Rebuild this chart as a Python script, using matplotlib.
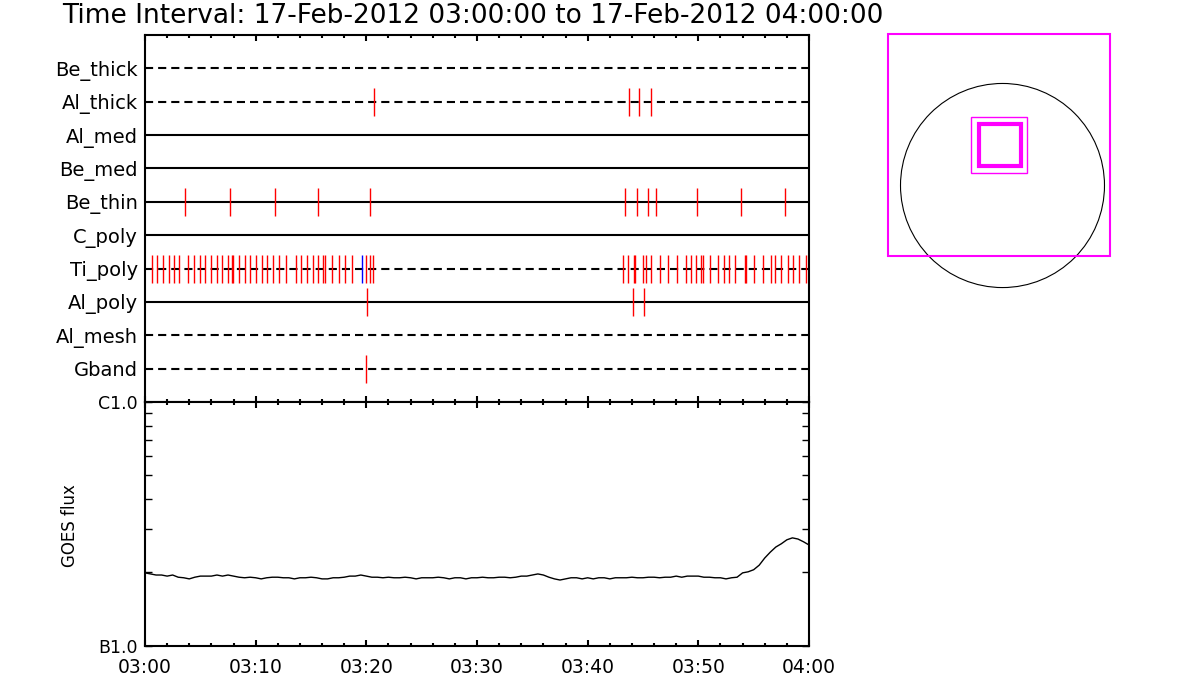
import matplotlib
matplotlib.use('Agg')
import matplotlib.pyplot as plt
from matplotlib.patches import Rectangle, Circle
import numpy as np

# ---- data -------------------------------------------------------------
title = 'Time Interval: 17-Feb-2012 03:00:00 to 17-Feb-2012 04:00:00'

# detector rows, top to bottom, and their line styles
rows = ['Be_thick', 'Al_thick', 'Al_med', 'Be_med', 'Be_thin',
        'C_poly', 'Ti_poly', 'Al_poly', 'Al_mesh', 'Gband']
dashed = ['Be_thick', 'Al_thick', 'Ti_poly', 'Al_mesh', 'Gband']

# event times in minutes after 03:00
events = {
    'Al_thick': [20.71, 43.75, 44.65, 45.74],
    'Be_thin': [3.65, 7.70, 11.75, 15.65, 20.35, 43.40, 44.45, 45.45, 46.20,
                49.90, 53.85, 57.80],
    'Ti_poly': [0.61, 1.11, 1.63, 2.14, 2.65, 3.10, 3.91, 4.43, 4.94, 5.45,
                5.96, 6.48, 6.98, 7.50, 7.88, 7.98, 8.49, 9.01, 9.51, 10.03,
                10.54, 11.05, 11.57, 12.08, 12.77, 13.62, 14.12, 14.64, 15.15,
                15.66, 16.12, 16.22, 16.87, 17.50, 18.10, 18.70, 19.94, 20.33,
                20.63,
                43.22, 43.67, 44.16, 44.28, 45.03, 45.27, 45.75, 46.56, 47.28,
                48.10, 48.86, 49.31, 49.76, 50.27, 50.39, 51.05, 51.80, 52.35,
                52.80, 53.31, 54.22, 54.33, 55.06, 55.84, 56.54, 56.95, 57.47,
                58.07, 58.55, 59.07, 59.75],
    'Al_poly': [20.08, 44.11, 45.10],
    'Gband': [19.96],
}
blue_events = {'Ti_poly': [19.63]}

# GOES flux, every 30 s from 03:00, in units of 1e-7 W/m^2
goes_t = np.arange(0, 60.5, 0.5)
goes_flux = [1.99, 1.97, 1.95, 1.95, 1.93, 1.95, 1.91, 1.90, 1.88, 1.91,
             1.93, 1.93, 1.93, 1.95, 1.93, 1.95, 1.93, 1.91, 1.90, 1.91,
             1.90, 1.88, 1.90, 1.91, 1.91, 1.90, 1.90, 1.88, 1.90, 1.90,
             1.91, 1.90, 1.88, 1.88, 1.90, 1.90, 1.91, 1.93, 1.93, 1.95,
             1.93, 1.91, 1.91, 1.90, 1.91, 1.90, 1.90, 1.91, 1.90, 1.88,
             1.90, 1.90, 1.90, 1.91, 1.90, 1.88, 1.90, 1.90, 1.88, 1.90,
             1.90, 1.91, 1.90, 1.90, 1.91, 1.91, 1.90, 1.91, 1.93, 1.93,
             1.95, 1.97, 1.95, 1.91, 1.88, 1.86, 1.88, 1.90, 1.90, 1.88,
             1.90, 1.88, 1.90, 1.90, 1.88, 1.90, 1.90, 1.90, 1.91, 1.90,
             1.90, 1.91, 1.91, 1.90, 1.91, 1.91, 1.93, 1.91, 1.93, 1.93,
             1.93, 1.91, 1.91, 1.90, 1.90, 1.88, 1.90, 1.91, 1.99, 2.01,
             2.05, 2.14, 2.29, 2.42, 2.54, 2.62, 2.72, 2.77, 2.74, 2.67,
             2.59]

time_ticks = [0, 10, 20, 30, 40, 50, 60]
time_labels = ['03:00', '03:10', '03:20', '03:30', '03:40', '03:50', '04:00']
flux_ticks = [1e-6, 1e-7]
flux_labels = ['C1.0', 'B1.0']

# field of view boxes on the solar disk (arcsec): centre x, centre y, half size
sun_radius = 960
fov_boxes = [(-34, 380, 1045, 1.5), (-30, 383, 262, 1.0), (-27, 378, 197, 3.0)]

# ---- figure -----------------------------------------------------------
plt.rcParams['font.family'] = 'DejaVu Sans'
fig = plt.figure(figsize=(12, 7), dpi=100)

W, H = 1200, 700
def pix_axes(x0, y0, x1, y1):
    return fig.add_axes([x0 / W, 1 - y1 / H, (x1 - x0) / W, (y1 - y0) / H])

ax1 = pix_axes(145, 35, 809, 402)
ax2 = pix_axes(145, 402, 809, 645.7)

n = len(rows)
ypos = {r: n - i for i, r in enumerate(rows)}
for r in rows:
    y = ypos[r]
    if r in dashed:
        ax1.plot([0, 60], [y, y], color='black', lw=1.5, dashes=(3.9, 2.4))
    else:
        ax1.plot([0, 60], [y, y], color='black', lw=1.5)
    if r in events:
        ax1.vlines(events[r], y - 0.42, y + 0.42, color='#ff0000', lw=1.0)
    if r in blue_events:
        ax1.vlines(blue_events[r], y - 0.42, y + 0.42, color='#0000ff', lw=1.0)

ax1.set_xlim(0, 60)
ax1.set_ylim(0, n + 1)
ax1.set_yticks([ypos[r] for r in rows])
ax1.set_yticklabels(rows, fontsize=14)
ax1.tick_params(axis='y', length=0, pad=5)
ax1.set_xticks(time_ticks)
ax1.set_xticks(np.arange(0, 61, 2), minor=True)
ax1.tick_params(axis='x', which='both', direction='in', top=True, bottom=True,
                labelbottom=False, width=1.5)
ax1.tick_params(axis='x', which='major', length=4)
ax1.tick_params(axis='x', which='minor', length=2.5)
for s in ax1.spines.values():
    s.set_linewidth(1.5)

# GOES panel
ax2.plot(goes_t, np.array(goes_flux) * 1e-7, color='black', lw=1.0)
ax2.set_yscale('log')
ax2.set_ylim(1e-7, 1e-6)
ax2.set_xlim(0, 60)
ax2.set_yticks(flux_ticks)
ax2.set_yticklabels(flux_labels, fontsize=12.5)
ax2.yaxis.set_minor_locator(matplotlib.ticker.LogLocator(base=10, subs=np.arange(2, 10)))
ax2.yaxis.set_minor_formatter(matplotlib.ticker.NullFormatter())
ax2.tick_params(axis='y', which='both', direction='in', left=True, right=True,
                length=5, width=1.0, pad=5)
ax2.set_xticks(time_ticks)
ax2.set_xticklabels(time_labels, fontsize=13.5)
ax2.set_xticks(np.arange(0, 61, 2), minor=True)
ax2.tick_params(axis='x', which='both', direction='in', top=True, bottom=True,
                width=1.5, pad=9)
ax2.tick_params(axis='x', which='major', length=4)
ax2.tick_params(axis='x', which='minor', length=2.5)
for s in ax2.spines.values():
    s.set_linewidth(1.5)

fig.text(70 / W, 1 - 526 / H, 'GOES flux', rotation=90, ha='center', va='center',
         fontsize=12)
fig.text(62 / W, 1 - 16 / H, title, ha='left', va='center', fontsize=19)

# solar disk panel
ax3 = pix_axes(880, 20, 1120, 300)
ax3.set_xlim(-1153, 1106)
ax3.set_ylim(-1077, 1557)
ax3.axis('off')
ax3.add_patch(Circle((0, 0), sun_radius, fill=False, edgecolor='black', lw=0.8))
for cx, cy, h, lw in fov_boxes:
    ax3.add_patch(Rectangle((cx - h, cy - h), 2 * h, 2 * h, fill=False,
                            edgecolor='#ff00ff', lw=lw))

fig.savefig('out.png', dpi=100, facecolor='white')
